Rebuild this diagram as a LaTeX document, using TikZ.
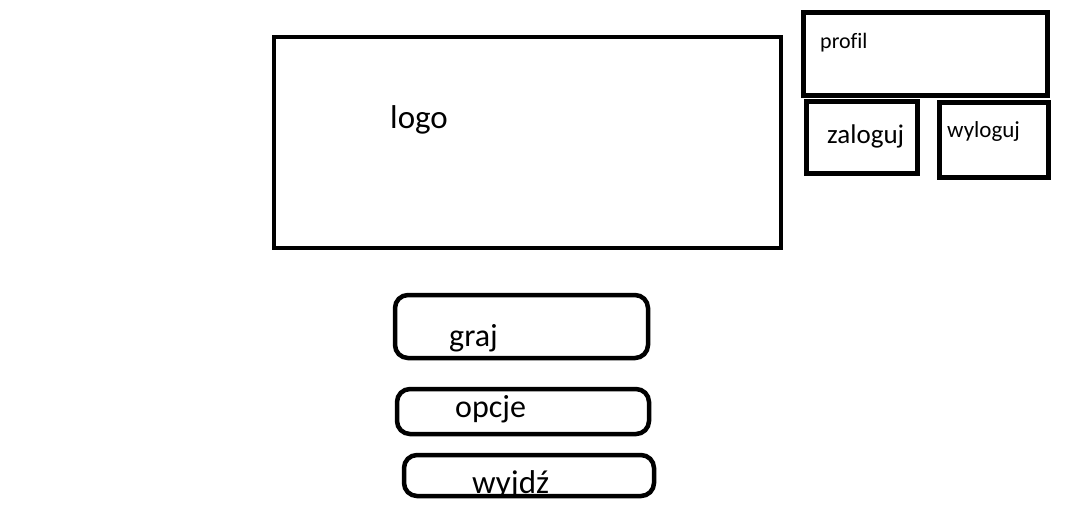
\documentclass[tikz,border=0pt]{standalone}
\usepackage{fontspec}
\setmainfont{Carlito}[Ligatures=CommonOff]
\begin{document}
\begin{tikzpicture}[x=1pt,y=-1pt,
    box/.style={draw, line width=4pt, inner sep=0pt, outer sep=0pt},
    smallbox/.style={box, line width=5pt},
    btn/.style={box, line width=4.5pt, rounded corners=13pt},
    lbl/.style={anchor=base west, inner sep=0pt}]
\useasboundingbox (0,0) rectangle (1070,507);
% header
\node[box, minimum width=507pt, minimum height=211pt] (logo) at (527.5,142.5) {};
\node[lbl, font=\fontsize{33}{33}\selectfont] (logotxt) at (390,128) {logo};
\node[smallbox, minimum width=244pt, minimum height=83pt] (profil) at (925,53.5) {};
\node[lbl, font=\fontsize{22}{22}\selectfont] (profiltxt) at (820,48) {profil};
\node[smallbox, minimum width=111pt, minimum height=72pt] (zaloguj) at (861.5,137) {};
\node[lbl, font=\fontsize{27}{27}\selectfont] (zalogujtxt) at (827,143) {zaloguj};
\node[smallbox, minimum width=109pt, minimum height=75pt] (wyloguj) at (993.5,139.5) {};
\node[lbl, font=\fontsize{23}{23}\selectfont] (wylogujtxt) at (947,137) {wyloguj};
% menu
\node[btn, minimum width=253pt, minimum height=63pt] (graj) at (521.5,326.5) {};
\node[lbl, font=\fontsize{32}{32}\selectfont] (grajtxt) at (449,346) {graj};
\node[btn, minimum width=252pt, minimum height=45pt] (opcje) at (523,411.5) {};
\node[lbl, font=\fontsize{32}{32}\selectfont] (opcjetxt) at (455,417) {opcje};
\begin{scope}
  \clip (0,0) rectangle (1070,496);
  \node[lbl, font=\fontsize{33}{33}\selectfont] (wyjdztxt) at (472,493) {wyjdź};
\end{scope}
\node[btn, minimum width=250pt, minimum height=41pt] (wyjdz) at (529,475.5) {};
\end{tikzpicture}
\end{document}
